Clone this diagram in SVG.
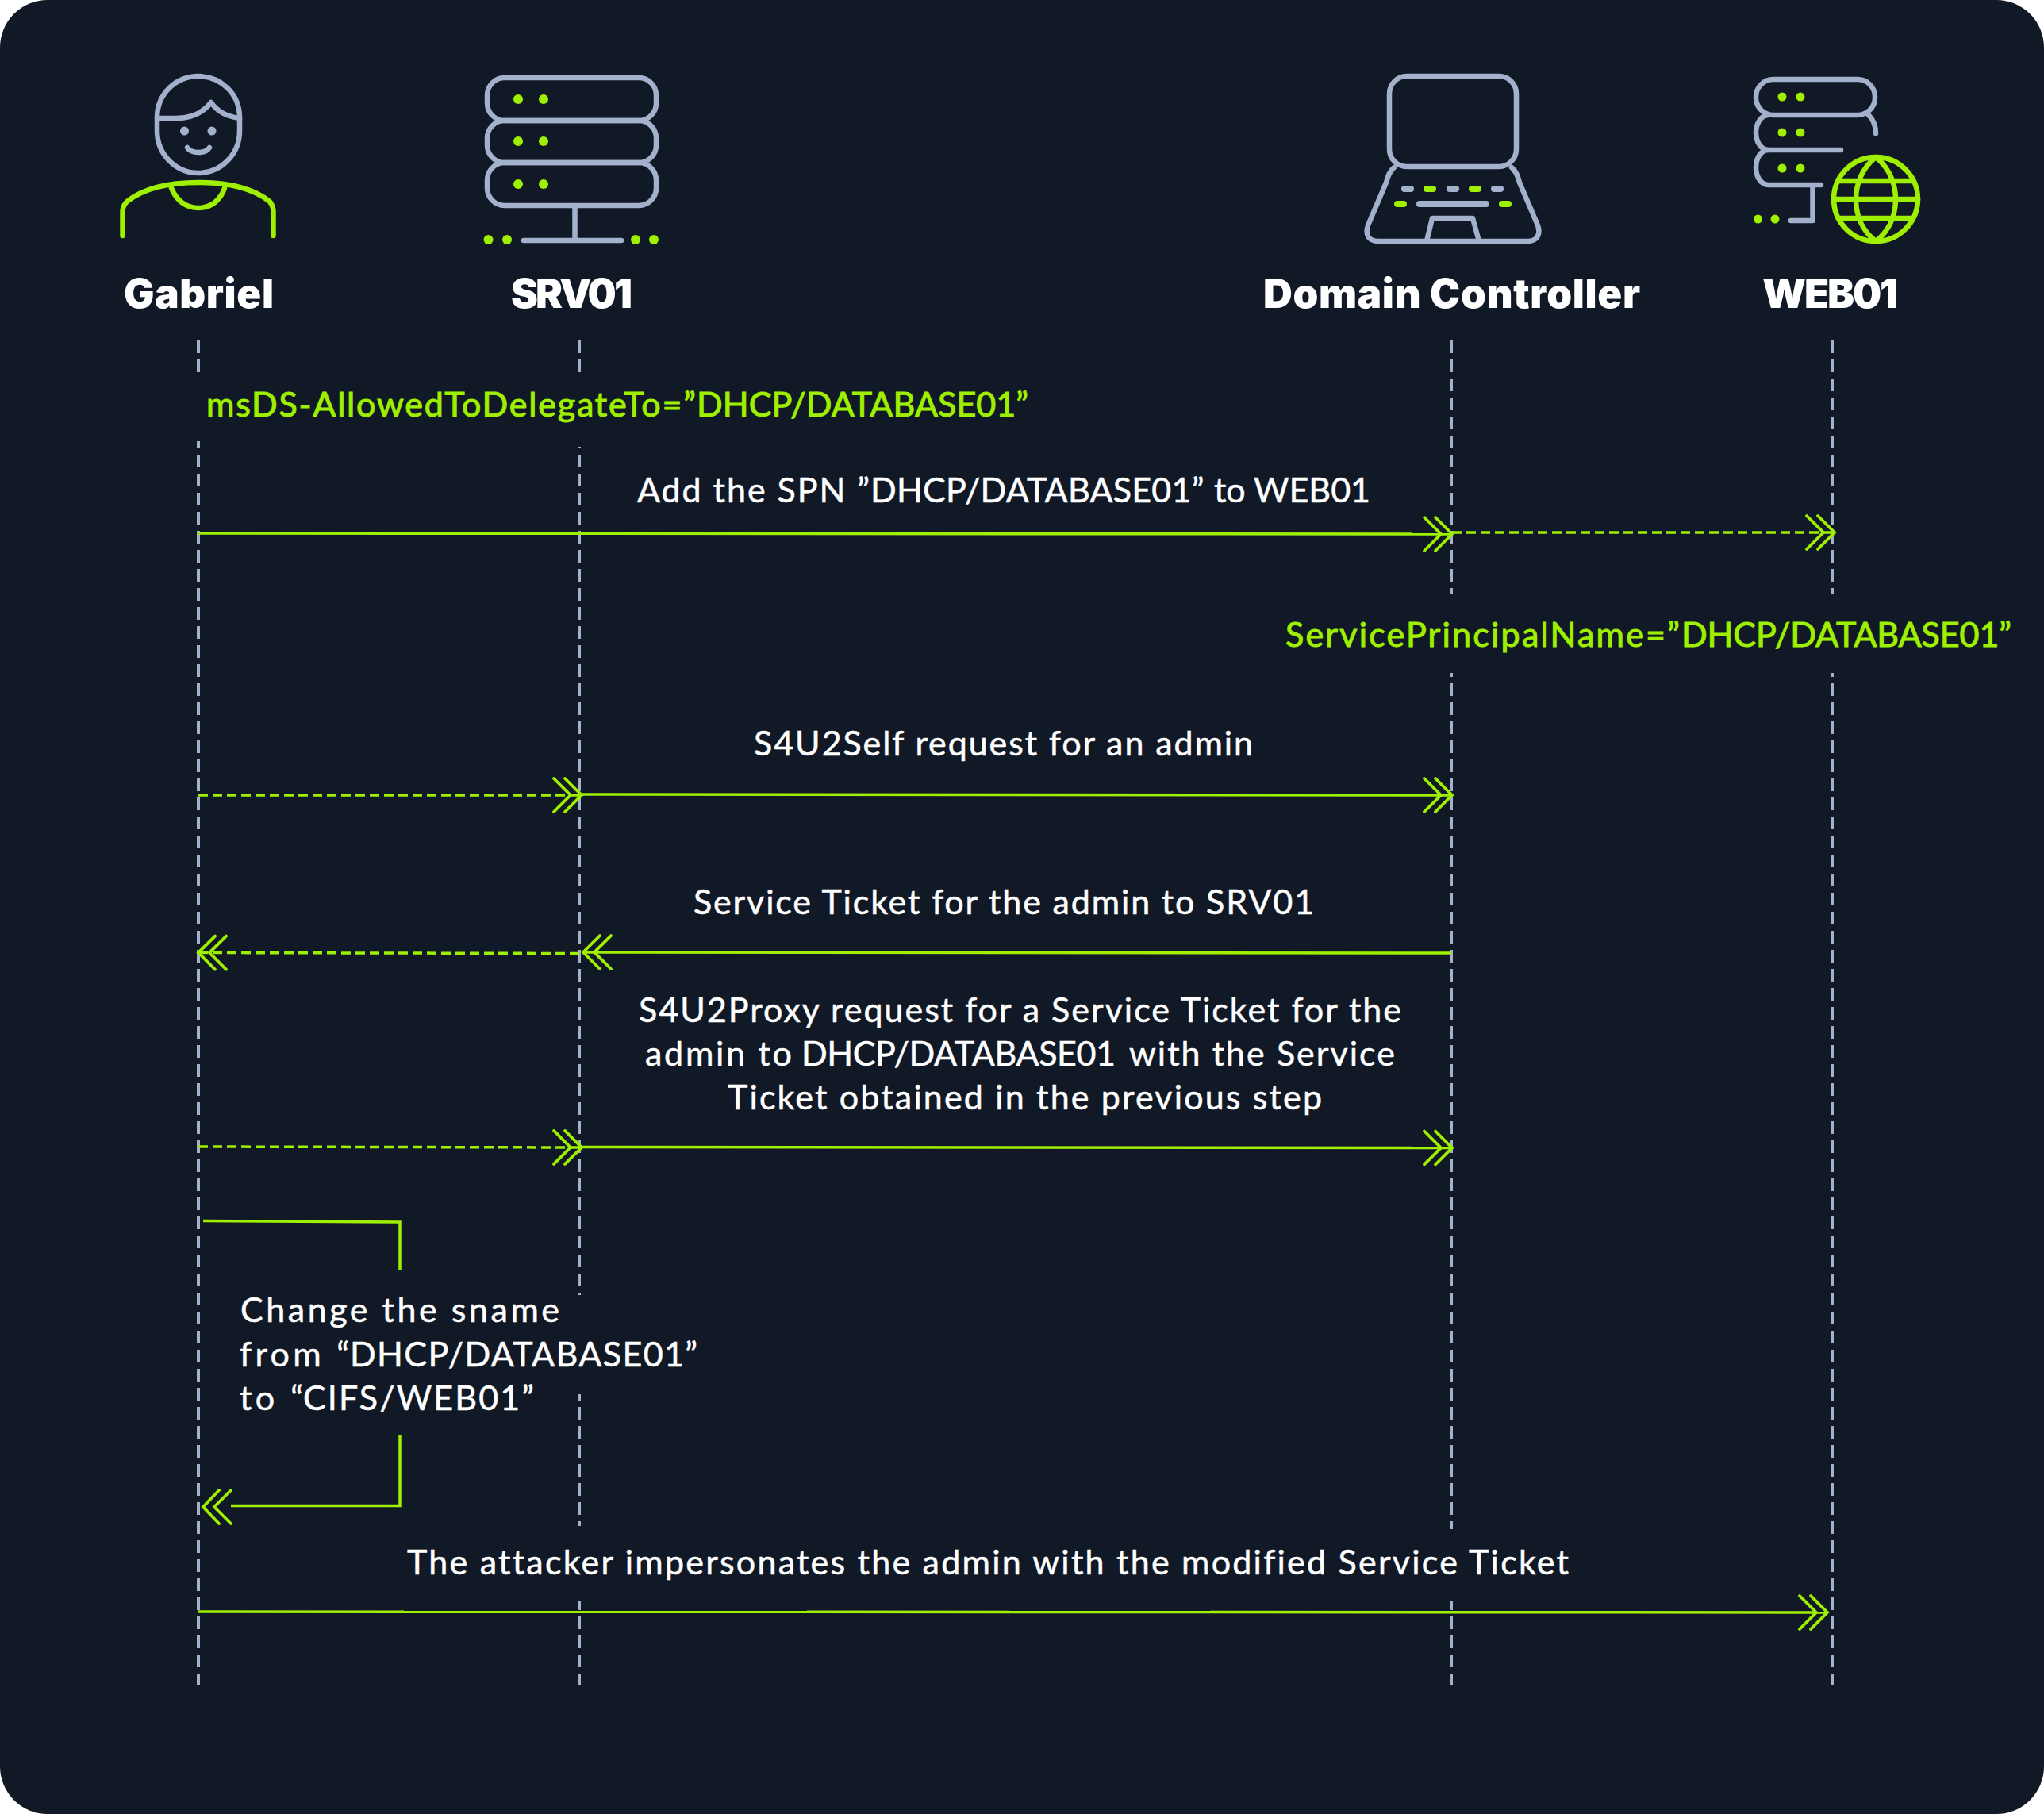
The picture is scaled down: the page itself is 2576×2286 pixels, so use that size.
<svg xmlns="http://www.w3.org/2000/svg" width="2576" height="2286" viewBox="0 0 2576 2286">
<style>
.life{stroke:#a4b1cd;stroke-width:4;stroke-dasharray:16 8;fill:none}
.sl{stroke:#a4b1cd;stroke-width:6.5;fill:none;stroke-linecap:round;stroke-linejoin:round}
.gl{stroke:#9fef00;stroke-width:6.5;fill:none;stroke-linecap:round;stroke-linejoin:round}
.gd{fill:#9fef00}.sd{fill:#a4b1cd}
.a{stroke:#9fef00;stroke-width:3.5;fill:none}
.d{stroke-dasharray:12 6}
.t{font-family:"Lato","Liberation Sans",sans-serif;font-size:43px;fill:#fff;stroke:#fff;stroke-width:.5;font-variant-ligatures:none}
.g{font-family:"Lato","Liberation Sans",sans-serif;font-size:43px;fill:#9fef00;stroke:#9fef00;stroke-width:1;font-variant-ligatures:none}
.h{font-family:"Inter","Liberation Sans",sans-serif;font-size:51px;font-weight:900;fill:#fff}
</style>
<defs>
<marker id="ar" markerUnits="userSpaceOnUse" markerWidth="50" markerHeight="60" refX="36" refY="30" orient="auto" overflow="visible">
<path d="M1 9L22 30L1 51M15 9L36 30L15 51" fill="none" stroke="#9fef00" stroke-width="3.8" stroke-linecap="round"/>
</marker>
<clipPath id="lc">
<path d="M240 429H260V477H240ZM240 556H260V2124H240ZM720 429H740V477H720ZM720 563H740V1632H720ZM720 1757H740V1923H720ZM720 2018H740V2124H720ZM1819 429H1839V749H1819ZM1819 848H1839V1927H1819ZM1819 2018H1839V2124H1819ZM2299 429H2319V749H2299ZM2299 848H2319V2124H2299Z"/>
</clipPath>
</defs>
<rect width="2576" height="2286" fill="#fff"/>
<rect width="2576" height="2286" rx="60" fill="#111927"/>
<g id="lifelines" clip-path="url(#lc)">
<path class="life" d="M250 429V2124"/>
<path class="life" d="M730 429V2124"/>
<path class="life" d="M1829 429V2124"/>
<path class="life" d="M2309 429V2124"/>
</g>
<g id="node-gabriel">
<path class="sl" d="M198 148C198 118 222 96 250 96C278 96 302 118 302 148V165C302 195 278 218 250 218C222 218 198 195 198 165Z"/>
<path class="sl" d="M198 149H222C242 149 256 142 266 129C274 141 286 147 302 149"/>
<ellipse class="sd" cx="232.500" cy="165" rx="5.500" ry="5.500"/><ellipse class="sd" cx="267" cy="165" rx="5.500" ry="5.500"/>
<path class="sl" d="M236 186C241 194 259 194 264 186"/>
<path class="gl" d="M154.500 297V267C154.500 262 156 258 160 254C180 238 212 230 250 230C288 230 320 238 340 254C343 258 344.500 262 344.500 267V297"/>
<path class="gl" d="M216 237C222 252 234 262 250 262C266 262 278 252 283 237" stroke-width="5"/>
<text class="h" x="156" y="388" textLength="189">Gabriel</text>
</g>
<g id="node-srv01">
<rect class="sl" x="614" y="98" width="213" height="54" rx="22"/>
<rect class="sl" x="614" y="152" width="213" height="53" rx="22"/>
<rect class="sl" x="614" y="205" width="213" height="54" rx="22"/>
<path class="sl" d="M724.500 259V303M660 303H783"/>
<g class="gd"><circle cx="653" cy="125" r="6"/><circle cx="685" cy="125" r="6"/><circle cx="653" cy="178" r="6"/><circle cx="685" cy="178" r="6"/><circle cx="653" cy="232" r="6"/><circle cx="685" cy="232" r="6"/><circle cx="615.500" cy="302" r="6"/><circle cx="639" cy="302" r="6"/><circle cx="801" cy="302" r="6"/><circle cx="824" cy="302" r="6"/></g>
<text class="h" x="644" y="388" textLength="153">SRV01</text>
</g>
<g id="node-domain-controller">
<rect class="sl" x="1751" y="96" width="160" height="114" rx="22"/>
<path class="sl" d="M1757 211C1751 216 1749 222 1747 230L1724 284C1720 296 1725 304 1737 304H1925C1937 304 1942 296 1938 284L1915 230C1913 222 1911 216 1905 211"/>
<path class="sl" d="M1798 304L1805 275H1856L1864 304" stroke-width="5.500"/>
<g class="sd"><rect x="1766" y="234" width="16" height="8" rx="4"/><rect x="1823" y="234" width="16" height="8" rx="4"/><rect x="1879" y="234" width="16" height="8" rx="4"/><rect x="1785" y="253" width="92" height="8" rx="4"/></g>
<g class="gd"><rect x="1794" y="234" width="16" height="8" rx="4"/><rect x="1851" y="234" width="16" height="8" rx="4"/><rect x="1757" y="253" width="16" height="8" rx="4"/><rect x="1889" y="253" width="16" height="8" rx="4"/></g>
<text class="h" x="1592" y="388" textLength="475">Domain Controller</text>
</g>
<g id="node-web01">
<rect class="sl" x="2213" y="100" width="150" height="45" rx="22"/>
<path class="sl" d="M2229 145C2218 145 2213 158 2213 167C2213 177 2218 189 2229 189H2320M2355 145C2360 150 2364 158 2364 168"/>
<path class="sl" d="M2229 189C2218 189 2213 201 2213 211C2213 221 2218 233 2229 233H2295M2284.500 233V278H2257"/>
<g class="gd"><circle cx="2246" cy="122" r="5.500"/><circle cx="2269" cy="122" r="5.500"/><circle cx="2246" cy="167" r="5.500"/><circle cx="2269" cy="167" r="5.500"/><circle cx="2246" cy="212" r="5.500"/><circle cx="2269" cy="212" r="5.500"/><circle cx="2215.500" cy="276" r="5.500"/><circle cx="2237" cy="276" r="5.500"/></g>
<circle class="gl" cx="2364" cy="251" r="53"/>
<path class="gl" d="M2364 198C2344 214 2339 236 2339 251C2339 270 2346 290 2364 304C2382 290 2389 270 2389 251C2389 236 2384 214 2364 198Z M2318 228H2410M2311 251H2417M2318 275H2410" stroke-width="5.500"/>
<text class="h" x="2221" y="388" textLength="171">WEB01</text>
</g>
<g id="connectors">
<path class="a" d="M250 672L1830 673" marker-end="url(#ar)"/>
<path class="a d" d="M1830 671H2312" marker-end="url(#ar)"/>
<path class="a d" d="M250 1002H733" marker-end="url(#ar)"/>
<path class="a" d="M733 1001L1830 1002" marker-end="url(#ar)"/>
<path class="a" d="M1829 1201L735 1200" marker-end="url(#ar)"/>
<path class="a d" d="M730 1201.500L250 1200.500" marker-end="url(#ar)"/>
<path class="a d" d="M250 1445L733 1446" marker-end="url(#ar)"/>
<path class="a" d="M733 1445.500L1830 1446.500" marker-end="url(#ar)"/>
<path class="a" d="M256 1538.500L504 1540V1601"/>
<path class="a" d="M504 1809V1897.500H291"/>
<path d="M276 1878L256 1899L276 1920M291 1878L270 1899L291 1920" fill="none" stroke="#9fef00" stroke-width="3.800" stroke-linecap="round"/>
<path class="a" d="M250 2031L2303 2032" marker-end="url(#ar)"/>
</g>
<g id="labels">
<text class="g" y="525"><tspan x="260" textLength="617">msDS-AllowedToDelegateTo=”</tspan><tspan x="878" textLength="418">DHCP/DATABASE01”</tspan></text>
<text class="t" y="633"><tspan x="803" textLength="293">Add the SPN ”</tspan><tspan x="1097" textLength="420">DHCP/DATABASE01”</tspan> <tspan x="1530" textLength="197">to WEB01</tspan></text>
<text class="g" y="815"><tspan x="1620" textLength="497">ServicePrincipalName=”</tspan><tspan x="2119" textLength="416">DHCP/DATABASE01”</tspan></text>
<text class="t" x="950" y="952" textLength="629">S4U2Self request for an admin</text>
<text class="t" x="874" y="1152" textLength="782">Service Ticket for the admin to SRV01</text>
<text class="t" x="805" y="1288" textLength="961">S4U2Proxy request for a Service Ticket for the</text>
<text class="t" y="1343"><tspan x="813" textLength="185">admin to</tspan> <tspan x="1010" textLength="396">DHCP/DATABASE01</tspan> <tspan x="1423" textLength="335">with the Service</tspan></text>
<text class="t" x="917" y="1398" textLength="749">Ticket obtained in the previous step</text>
<text class="t" x="303" y="1666" textLength="402">Change the sname</text>
<text class="t" y="1722"><tspan x="302" textLength="138">from “</tspan><tspan x="441" textLength="438">DHCP/DATABASE01”</tspan></text>
<text class="t" y="1777"><tspan x="302" textLength="80">to “</tspan><tspan x="382" textLength="291">CIFS/WEB01”</tspan></text>
<text class="t" x="513" y="1984" textLength="1464">The attacker impersonates the admin with the modified Service Ticket</text>
</g>
</svg>
